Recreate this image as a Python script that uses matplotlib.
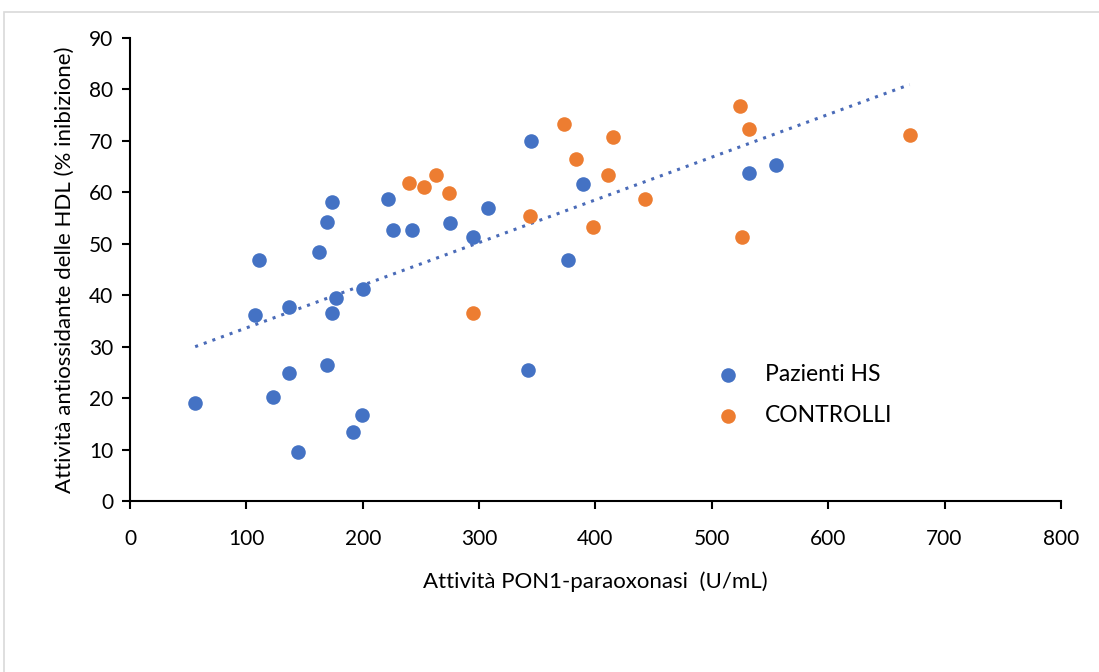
import numpy as np
import matplotlib.pyplot as plt
from matplotlib.patches import Rectangle

# Pazienti HS
hs_x = [56, 107, 111, 137, 137, 123, 144, 162, 169, 174, 169, 174, 177, 200, 199,
        192, 222, 226, 242, 275, 295, 308, 345, 342, 376, 389, 532, 555]
hs_y = [19.1, 36.1, 46.9, 37.7, 24.9, 20.3, 9.5, 48.4, 54.2, 58.1, 26.4, 36.6, 39.5, 41.3, 16.8,
        13.5, 58.7, 52.6, 52.6, 54.1, 51.4, 57.0, 70.0, 25.4, 46.8, 61.6, 63.7, 65.4]

# Controlli
ctrl_x = [240, 253, 263, 274, 295, 344, 373, 383, 398, 411, 415, 443, 524, 526, 532, 670]
ctrl_y = [61.8, 61.0, 63.4, 59.9, 36.6, 55.3, 73.3, 66.5, 53.2, 63.3, 70.8, 58.7, 76.7, 51.4, 72.3, 71.2]

x_ticks = [0, 100, 200, 300, 400, 500, 600, 700, 800]
y_ticks = [0, 10, 20, 30, 40, 50, 60, 70, 80, 90]

plt.rcParams['font.family'] = ['Lato', 'DejaVu Sans']

fig = plt.figure(figsize=(10.99, 6.72), dpi=100)
fig.patches.append(Rectangle((4 / 1099, -0.05), 1.1, 1 - 12 / 672 + 0.05,
                             transform=fig.transFigure, fill=False,
                             edgecolor='#d9d9d9', linewidth=1.2))
ax = fig.add_axes([0.1183, 0.2545, 0.847, 0.689])

# linea di tendenza su tutti i dati
all_x = np.array(hs_x + ctrl_x)
all_y = np.array(hs_y + ctrl_y)
m, q = np.polyfit(all_x, all_y, 1)
tx = np.array([all_x.min(), all_x.max()])
ax.plot(tx, m * tx + q, linestyle=(0, (1, 2)), color='#4a6bb8', linewidth=2.2, zorder=1)

ax.scatter(hs_x, hs_y, s=110, color='#4472C4', label='Pazienti HS', zorder=3, linewidths=0)
ax.scatter(ctrl_x, ctrl_y, s=110, color='#ED7D31', label='CONTROLLI', zorder=3, linewidths=0)

ax.set_xlim(0, 800)
ax.set_ylim(0, 90)
ax.set_xticks(x_ticks)
ax.set_yticks(y_ticks)
ax.tick_params(labelsize=15, width=1.5, length=6, direction='out', pad=6)
ax.tick_params(axis='x', pad=14)
for s in ['top', 'right']:
    ax.spines[s].set_visible(False)
for s in ['left', 'bottom']:
    ax.spines[s].set_linewidth(1.5)

ax.set_xlabel('Attività PON1-paraoxonasi  (U/mL)', fontsize=16, labelpad=16)
ax.set_ylabel('Attività antiossidante delle HDL (% inibizione)', fontsize=16, labelpad=10)

ax.legend(loc='upper left', bbox_to_anchor=(0.596, 0.34), frameon=False, fontsize=16.5,
          handletextpad=0.6, labelspacing=0.85, scatterpoints=1)

plt.savefig('out.png', dpi=100)
